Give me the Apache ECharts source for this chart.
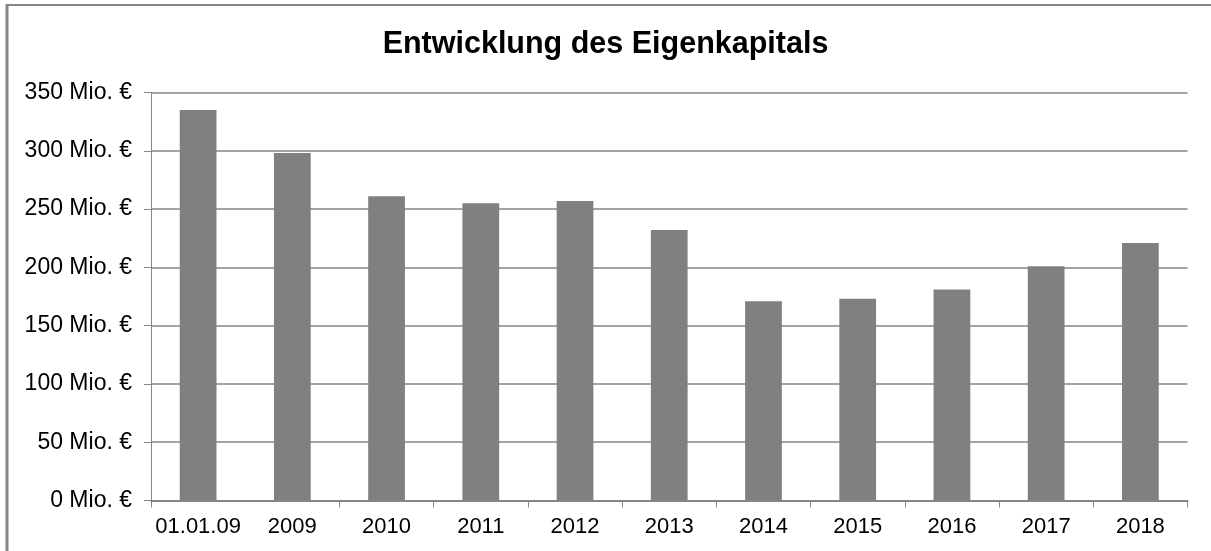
<!DOCTYPE html>
<html>
<head>
<meta charset="utf-8">
<script src="https://cdn.jsdelivr.net/npm/echarts@6/dist/echarts.min.js"></script>
<style>
html,body{margin:0;padding:0;background:#fff;}
#c{width:1211px;height:551px;}
</style>
</head>
<body>
<div id="c"></div>
<script>
const titleText = 'Entwicklung des Eigenkapitals';
const categories = ['01.01.09','2009','2010','2011','2012','2013','2014','2015','2016','2017','2018'];
const equity = [335, 298, 261, 255, 257, 232, 171, 173, 181, 201, 221];
const yTicks = [0, 50, 100, 150, 200, 250, 300, 350];
const unitSuffix = ' Mio. €';

const chart = echarts.init(document.getElementById('c'), null, {renderer:'canvas'});
const font = "'Liberation Sans', Arial, sans-serif";
chart.setOption({
  animation: false,
  backgroundColor: '#fff',
  title: {
    text: titleText,
    left: 'center',
    top: 24,
    textStyle: {fontFamily: font, fontSize: 30.5, fontWeight: 'bold', color: '#000'}
  },
  graphic: [
    {type:'line', shape:{x1:6, y1:5, x2:1211, y2:5}, style:{stroke:'#868686', lineWidth:2}},
    {type:'line', shape:{x1:7, y1:4, x2:7, y2:551}, style:{stroke:'#868686', lineWidth:3}}
  ],
  grid: {left: 151, right: 23.5, top: 92.5, bottom: 50.5, containLabel: false},
  xAxis: {
    type: 'category',
    data: categories,
    boundaryGap: true,
    axisLine: {lineStyle: {color: '#868686', width: 2}},
    axisTick: {show: true, length: 7, lineStyle: {color: '#868686', width: 1}, interval: function(i){ return i !== 1; }},
    axisLabel: {fontFamily: font, fontSize: 22, color: '#000', margin: 15, interval: 0}
  },
  yAxis: {
    type: 'value',
    min: yTicks[0],
    max: yTicks[yTicks.length-1],
    interval: yTicks[1] - yTicks[0],
    axisLine: {show: true, lineStyle: {color: '#868686', width: 1}},
    axisTick: {show: true, length: 7, lineStyle: {color: '#868686', width: 1}},
    splitLine: {show: true, lineStyle: {color: '#868686', width: 1.5}},
    axisLabel: {fontFamily: font, fontSize: 23, color: '#000', margin: 19,
      formatter: function(v){ return v + unitSuffix; }}
  },
  series: [{
    type: 'bar',
    data: equity,
    barWidth: '39%',
    itemStyle: {color: '#808080'}
  }]
});
</script>
</body>
</html>
